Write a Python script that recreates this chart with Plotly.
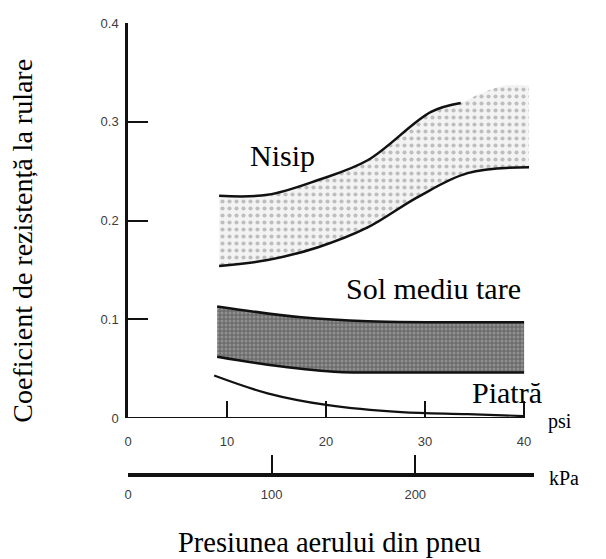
import plotly.graph_objects as go

# Rolling-resistance coefficient vs tyre inflation pressure (psi)
nisip_low_x = [9.2, 14.1, 19.2, 24.2, 29.3, 34.3, 40.5]
nisip_low_y = [0.154, 0.160, 0.173, 0.193, 0.224, 0.248, 0.254]
nisip_up_x = [9.2, 14.1, 19.2, 24.2, 30.6, 33.6, 35.7, 38.2, 40.5]
nisip_up_y = [0.225, 0.226, 0.241, 0.261, 0.310, 0.319, 0.329, 0.337, 0.337]
nisip_edge_end = 6  # upper edge is stroked only up to this point

sol_low_x = [9.0, 14.1, 20.8, 27.6, 40.0]
sol_low_y = [0.062, 0.054, 0.047, 0.046, 0.046]
sol_up_x = [9.0, 17.5, 24.2, 40.0]
sol_up_y = [0.113, 0.102, 0.098, 0.097]

piatra_x = [8.7, 14.1, 20.2, 27.6, 34.3, 40.0]
piatra_y = [0.043, 0.025, 0.013, 0.006, 0.004, 0.002]

psi_ticks = [0, 10, 20, 30, 40]
kpa_ticks = [0, 100, 200]
y_ticks = [0, 0.1, 0.2, 0.3, 0.4]
y_tick_text = ["0", "0.1", "0.2", "0.3", "0.4"]

PSI_MAX = 41.0
KPA_PER_PSI = 6.895

SERIF = "Liberation Serif, Times New Roman, serif"
TICK_FONT = dict(family="Liberation Sans", size=13, color="#3c3c3c")

fig = go.Figure()


def band(lx, ly, ux, uy, pattern):
    fig.add_trace(go.Scatter(x=lx, y=ly, mode="lines",
                             line=dict(width=0, shape="spline"),
                             hoverinfo="skip", showlegend=False))
    fig.add_trace(go.Scatter(x=ux, y=uy, mode="lines", fill="tonexty",
                             line=dict(width=0, shape="spline"),
                             fillcolor=pattern["bgcolor"],
                             fillpattern=pattern,
                             hoverinfo="skip", showlegend=False))


def edge(x, y, width=2.5):
    fig.add_trace(go.Scatter(x=x, y=y, mode="lines",
                             line=dict(color="#111111", width=width, shape="spline"),
                             hoverinfo="skip", showlegend=False))


# sand band (light stipple)
band(nisip_low_x, nisip_low_y, nisip_up_x, nisip_up_y,
     dict(shape=".", bgcolor="#f3f3f3", fgcolor="#8a8a8a", size=7, solidity=0.28))
# medium-hard soil band (dark stipple)
band(sol_low_x, sol_low_y, sol_up_x, sol_up_y,
     dict(shape=".", bgcolor="#6c6c6c", fgcolor="#b4b4b4", size=4, solidity=0.45))

edge(nisip_low_x, nisip_low_y)
edge(nisip_up_x[:nisip_edge_end], nisip_up_y[:nisip_edge_end])
edge(sol_low_x, sol_low_y)
edge(sol_up_x, sol_up_y)
edge(piatra_x, piatra_y, width=2.2)

# anchor trace for the kPa axis
fig.add_trace(go.Scatter(x=[0], y=[None], xaxis="x2", mode="lines",
                         hoverinfo="skip", showlegend=False))

# psi axis line ends at 40
fig.add_shape(type="line", xref="x", yref="y", x0=0, x1=40, y0=0, y1=0,
              line=dict(color="#111111", width=2.2))

labels = [
    ("Nisip", 15.6, 0.266),
    ("Sol mediu tare", 30.8, 0.131),
    ("Piatră", 38.3, 0.026),
]
for txt, x, y in labels:
    fig.add_annotation(text=txt, x=x, y=y, xref="x", yref="y", showarrow=False,
                       xanchor="center", yanchor="middle",
                       font=dict(family=SERIF, size=30, color="#000000"))


def paper_text(txt, x, y, size, angle=0):
    fig.add_annotation(text=txt, x=x, y=y, xref="paper", yref="paper",
                       showarrow=False, xanchor="center", yanchor="middle",
                       textangle=angle,
                       font=dict(family=SERIF, size=size, color="#000000"))


paper_text("psi", 1.064, 0.118, 20)
paper_text("kPa", 1.074, -0.006, 20)
paper_text("Presiunea aerului din pneu", 0.497, -0.150, 28.5)
paper_text("Coeficient de rezistență la rulare", -0.259, 0.518, 28, angle=-90)

fig.update_layout(
    width=606, height=559,
    margin=dict(l=128, r=72, t=23, b=84),
    paper_bgcolor="white", plot_bgcolor="white",
    showlegend=False,
    xaxis=dict(range=[0, PSI_MAX], showgrid=False, zeroline=False, showline=False,
               tickvals=psi_ticks, ticktext=[str(v) for v in psi_ticks],
               ticks="inside", ticklen=17, tickwidth=2, tickcolor="#111111",
               tickfont=TICK_FONT, ticklabelstandoff=14,
               anchor="y"),
    xaxis2=dict(range=[0, PSI_MAX * KPA_PER_PSI], overlaying="x", anchor="free",
                position=0, side="bottom", showgrid=False, zeroline=False,
                showline=True, linewidth=3.5, linecolor="#111111",
                tickvals=kpa_ticks, ticktext=[str(v) for v in kpa_ticks],
                ticks="inside", ticklen=18, tickwidth=2, tickcolor="#111111",
                tickfont=TICK_FONT, ticklabelstandoff=7),
    yaxis=dict(range=[0, 0.4], domain=[0.126, 1], showgrid=False, zeroline=False,
               showline=True, linewidth=2.5, linecolor="#111111",
               tickvals=y_ticks, ticktext=y_tick_text,
               ticks="inside", ticklen=20, tickwidth=2, tickcolor="#111111",
               tickfont=TICK_FONT, ticklabelstandoff=4),
)

fig.write_html("out.html")
